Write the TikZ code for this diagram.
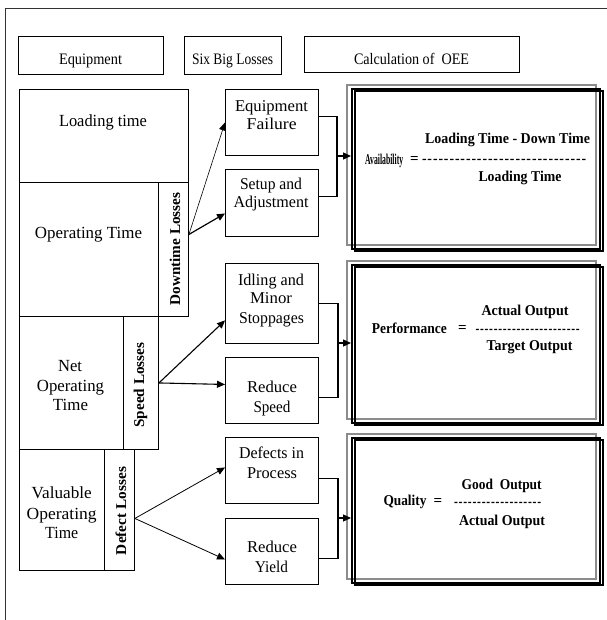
\documentclass[tikz,border=0pt]{standalone}
\usepackage{fontspec}
\usepackage{graphicx}
\setmainfont{Liberation Serif}
\usetikzlibrary{arrows.meta}
% squeeze a line of text to a given width, keeping its height
\newcommand{\sq}[2]{\resizebox{#1pt}{\height}{#2}}
% a row of separate hyphens (kerns keep them from merging into dashes)
\newcommand{\hyphenrow}[1]{\foreach \k in {1,...,#1}{-\kern1pt}}

\begin{document}
\begin{tikzpicture}[x=1pt,y=-1pt,
  cell/.style={draw, line width=0.9pt, inner sep=0pt, anchor=north west},
  hdr/.style={anchor=base, inner sep=0pt, font=\fontsize{16}{18}\selectfont},
  ltxt/.style={anchor=base, inner sep=0pt, font=\fontsize{17}{20}\selectfont},
  mtxt/.style={anchor=base, inner sep=0pt, font=\fontsize{16.5}{19}\selectfont},
  rtxt/.style={anchor=base, inner sep=0pt, rotate=90, font=\bfseries\fontsize{15}{18}\selectfont},
  ftxt/.style={anchor=base, inner sep=0pt, font=\bfseries\fontsize{15}{18}\selectfont},
  arr/.style={-{Triangle[length=8pt,width=7pt]}, line width=1pt},
  joinline/.style={line width=1.3pt},
]
\useasboundingbox (0,0) rectangle (606,620);

% outer frame
\draw[line width=1pt, black!80] (5.5,8.5) rectangle (640,660);

% column headers
\node[cell, minimum width=145pt, minimum height=38pt] (hEquip) at (18,36) {};
\node[cell, minimum width=97pt, minimum height=38pt] (hSix) at (184,36) {};
\node[cell, minimum width=215pt, minimum height=36pt] (hCalc) at (304,36) {};
\node[hdr] (tEquip) at (90.5,65) {\sq{63}{Equipment}};
\node[hdr] (tSix) at (232.5,65) {\sq{81}{Six Big Losses}};
\node[hdr] (tCalc) at (411.5,65) {\sq{115}{Calculation of\ \ OEE}};

% equipment time breakdown
\node[cell, minimum width=169pt, minimum height=93pt] (load) at (19,89) {};
\node[cell, minimum width=139pt, minimum height=134pt] (oper) at (19,182) {};
\node[cell, minimum width=30pt, minimum height=134pt] (downl) at (158,182) {};
\node[cell, minimum width=104pt, minimum height=133pt] (netop) at (19,316) {};
\node[cell, minimum width=35pt, minimum height=133pt] (speedl) at (123,316) {};
\node[cell, minimum width=85pt, minimum height=121pt] (valop) at (19,449) {};
\node[cell, minimum width=30pt, minimum height=121pt] (defl) at (104,449) {};

\node[ltxt] (tLoad) at (103,127) {\sq{88}{Loading time}};
\node[ltxt] (tOper) at (88.5,238) {\sq{107}{Operating Time}};
\node[ltxt] (tNet1) at (70,371) {\sq{24}{Net}};
\node[ltxt] (tNet2) at (70.5,391) {\sq{67}{Operating}};
\node[ltxt] (tNet3) at (70.5,410) {\sq{35}{Time}};
\node[ltxt] (tVal1) at (61.7,498) {\sq{60}{Valuable}};
\node[ltxt] (tVal2) at (61.7,519) {\sq{70}{Operating}};
\node[ltxt] (tVal3) at (61.7,538) {\sq{33}{Time}};

\node[rtxt] (tDown) at (180,249) {\sq{113}{Downtime Losses}};
\node[rtxt] (tSpeed) at (144,385) {\sq{85}{Speed Losses}};
\node[rtxt] (tDef) at (126,511) {\sq{88}{Defect Losses}};

% six big losses
\node[cell, minimum width=93pt, minimum height=66pt] (eqf) at (225,89) {};
\node[cell, minimum width=93pt, minimum height=67pt] (setup) at (225,169) {};
\node[cell, minimum width=93pt, minimum height=80pt] (idle) at (225,263) {};
\node[cell, minimum width=93pt, minimum height=66pt] (rspeed) at (225,357) {};
\node[cell, minimum width=93pt, minimum height=66pt] (defproc) at (225,437) {};
\node[cell, minimum width=93pt, minimum height=66pt] (ryield) at (225,518) {};

\node[mtxt] (tEqf1) at (271.5,112) {\sq{73}{Equipment}};
\node[mtxt] (tEqf2) at (271.7,130) {\sq{50}{Failure}};
\node[mtxt] (tSet1) at (271,190) {\sq{62}{Setup and}};
\node[mtxt] (tSet2) at (271,208) {\sq{75}{Adjustment}};
\node[mtxt] (tIdl1) at (271,285) {\sq{66}{Idling and}};
\node[mtxt] (tIdl2) at (271,303) {\sq{42}{Minor}};
\node[mtxt] (tIdl3) at (271.5,323) {\sq{65}{Stoppages}};
\node[mtxt] (tRsp1) at (272,392) {\sq{50}{Reduce}};
\node[mtxt] (tRsp2) at (272,412) {\sq{37}{Speed}};
\node[mtxt] (tDfp1) at (271.5,458) {\sq{65}{Defects in}};
\node[mtxt] (tDfp2) at (272,478) {\sq{50}{Process}};
\node[mtxt] (tRyl1) at (272,552) {\sq{50}{Reduce}};
\node[mtxt] (tRyl2) at (271.5,572) {\sq{33}{Yield}};

% OEE formula panels: grey outline with a double black shadow frame
\foreach \n/\ya/\yb in {avail/85.5/245, perf/261/419, qual/434/579}{
  \draw[line width=2pt, black!45] (347,\ya) rectangle (596,\yb);
  \draw[line width=2pt] (354.5,\ya+6) rectangle (602.5,\yb+6);
  \node[draw, line width=2pt, inner sep=0pt, anchor=north west,
        minimum width=248pt, minimum height={\yb-\ya}] (\n) at (351,\ya+3) {};
}

\node[ftxt] (tAv1) at (507.5,144) {\sq{165}{Loading Time - Down Time}};
\node[ftxt, anchor=base west] (tAv0) at (365,165) {\sq{38}{Availability}};
\node[ftxt] (tAvEq) at (414.5,164) {=};
\node[ftxt] (tAvDash) at (504.5,163.5) {\sq{165}{\hyphenrow{30}}};
\node[ftxt] (tAv2) at (520,182) {\sq{83}{Loading Time}};

\node[ftxt] (tPf1) at (525,315) {\sq{87}{Actual Output}};
\node[ftxt, anchor=base west] (tPf0) at (371.7,333) {\sq{75}{Performance}};
\node[ftxt] (tPfEq) at (462.5,332) {=};
\node[ftxt] (tPfDash) at (528,333.5) {\sq{105}{\hyphenrow{23}}};
\node[ftxt] (tPf2) at (529.5,350) {\sq{86}{Target Output}};

\node[ftxt] (tQl1) at (501.7,489) {\sq{80}{Good\ \ Output}};
\node[ftxt, anchor=base west] (tQl0) at (383.3,505) {\sq{43}{Quality}};
\node[ftxt] (tQlEq) at (438,505) {=};
\node[ftxt] (tQlDash) at (498,506) {\sq{88}{\hyphenrow{19}}};
\node[ftxt] (tQl2) at (502,525) {\sq{86}{Actual Output}};

% losses fanning out to the six big losses
\draw[arr, line width=0.6pt] ([yshift=15pt]downl.east) -- (eqf.west);
\draw[arr, line width=1.2pt] ([yshift=15pt]downl.east) -- ([yshift=-10.5pt]setup.west);
\draw[arr, line width=1.1pt] (speedl.east) -- ([yshift=-17pt]idle.west);
\draw[arr, line width=1.1pt] (speedl.east) -- ([yshift=6pt]rspeed.west);
\draw[arr, line width=0.8pt] ([yshift=-8.5pt]defl.east) -- ([yshift=3pt]defproc.west);
\draw[arr, line width=0.8pt] ([yshift=-8.5pt]defl.east) -- ([yshift=-8pt]ryield.west);

% losses joined into each OEE factor
\coordinate (j1) at (337,156);
\coordinate (j2) at (338,343);
\coordinate (j3) at (338,518);
\draw[joinline] ([yshift=6pt]eqf.east) -| (j1) |- ([yshift=6.5pt]setup.east);
\draw[arr, line width=1.3pt] (j1) -- (j1 -| avail.west);
\draw[joinline] (idle.east) -| (j2) |- ([yshift=-7pt]rspeed.east);
\draw[arr, line width=1.3pt] (j2) -- (j2 -| perf.west);
\draw[joinline] ([yshift=-8pt]defproc.east) -| (j3) |- ([yshift=-7pt]ryield.east);
\draw[arr, line width=1.3pt] (j3) -- (j3 -| qual.west);
\end{tikzpicture}
\end{document}
